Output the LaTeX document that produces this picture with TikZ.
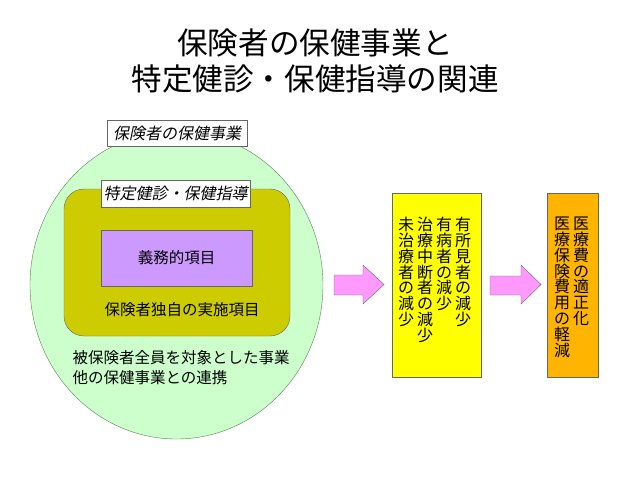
\documentclass[tikz,border=0pt]{standalone}
\usepackage{fontspec}
\setmainfont{Noto Sans CJK JP}
\newfontfamily\jpslant[FakeSlant=0.2]{Noto Sans CJK JP}
\usetikzlibrary{shapes.geometric}
\definecolor{kenko}{HTML}{CCFFCC}
\definecolor{tokuteicol}{HTML}{CCCC00}
\definecolor{gimucol}{HTML}{CC99FF}
\definecolor{yajirushi}{HTML}{FF99FF}
\definecolor{kiiro}{HTML}{FFFF00}
\definecolor{daidai}{HTML}{FFB400}
\definecolor{waku}{HTML}{666666}
\tikzset{
  honbun/.style={font=\fontsize{15.5}{20}\selectfont},
  midashi/.style={draw=waku,fill=white,inner sep=0pt,font=\jpslant\fontsize{16}{20}\selectfont},
  tate/.style={anchor=north,align=center,inner sep=0pt,font=\fontsize{16}{15.8}\selectfont},
  hako/.style={draw=waku,inner sep=0pt},
  blockarrow/.style={draw=waku,fill=yajirushi,line join=miter}
}

\begin{document}
\begin{tikzpicture}[x=1pt,y=-1pt]
  \useasboundingbox (0,0) rectangle (640,480);

  % Title
  \node[align=center,font=\fontsize{30.6}{36}\selectfont] (title) at (315,61)
    {保険者の保健事業と\\特定健診・保健指導の関連};

  % Insurer's health programme
  \node[ellipse,draw=waku!80!green,fill=kenko,minimum width=293pt,minimum height=308pt,inner sep=0pt] (jigyo) at (176.5,285) {};
  \node[midashi,minimum width=140pt,minimum height=26pt] (jigyolabel) at (177,133) {保険者の保健事業};

  % Specific health checkups and guidance
  \node[hako,fill=tokuteicol,rounded corners=20pt,minimum width=226pt,minimum height=147pt] (tokutei) at (177,262.5) {};
  \node[midashi,minimum width=149pt,minimum height=27pt] (tokuteilabel) at (175.5,193.5) {特定健診・保健指導};
  \node[hako,fill=gimucol,minimum width=151pt,minimum height=56pt,honbun] (gimu) at (176.5,258) {義務的項目};
  \node[honbun] (dokuji) at (182,310) {保険者独自の実施項目};
  \node[honbun,align=left,anchor=west] (zenin) at (69,368)
    {被保険者全員を対象とした事業\\他の保健事業との連携};

  % Block arrows
  \draw[blockarrow] (334,275) -- (363,275) -- (363,265) -- (384,284.5)
    -- (363,304) -- (363,295) -- (334,295) -- cycle;
  \draw[blockarrow] (490,276) -- (521,276) -- (521,265) -- (541,284.5)
    -- (521,304) -- (521,295) -- (490,295) -- cycle;

  % Outcomes
  \node[hako,fill=kiiro,minimum width=89pt,minimum height=184pt] (genshou) at (436.5,285) {};
  \node[tate] (yuusho) at (463,217) {有\\所\\見\\者\\の\\減\\少};
  \node[tate] (yuubyou) at (444,217) {有\\病\\者\\の\\減\\少};
  \node[tate] (chuudan) at (425,217) {治\\療\\中\\断\\者\\の\\減\\少};
  \node[tate] (michiryou) at (406,217) {未\\治\\療\\者\\の\\減\\少};

  \node[hako,fill=daidai,minimum width=51pt,minimum height=184pt] (iryouhi) at (572.5,285) {};
  \node[tate] (tekisei) at (581,217) {医\\療\\費\\の\\適\\正\\化};
  \node[tate] (keigen) at (562,217) {医\\療\\保\\険\\費\\用\\の\\軽\\減};
\end{tikzpicture}
\end{document}
